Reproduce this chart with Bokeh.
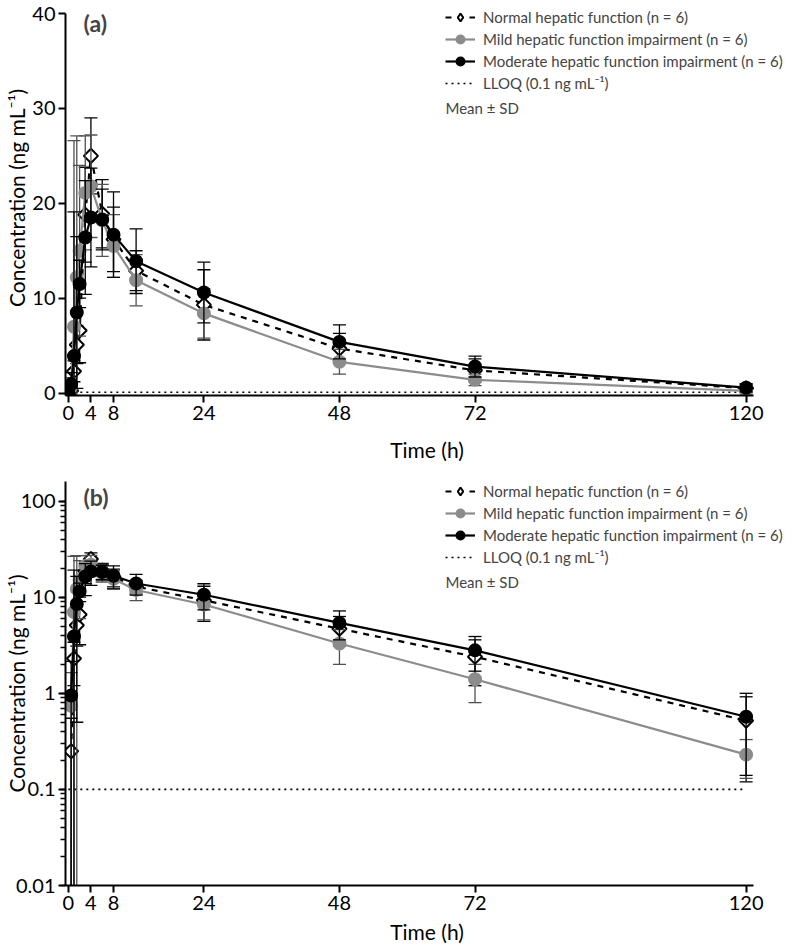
import numpy as np
from bokeh.plotting import figure
from bokeh.models import (ColumnDataSource, Legend, LegendItem, Label, FixedTicker, LogTicker,
                          Range1d, CustomJSTickFormatter)
from bokeh.layouts import column
from bokeh.embed import file_html
from bokeh.resources import INLINE

# ---------------- data ----------------
time_h = [0, 0.5, 1, 1.5, 2, 3, 4, 6, 8, 12, 24, 48, 72, 120]
normal_mean = [0, 0.25, 2.3, 5.1, 6.6, 18.8, 25.0, 18.9, 16.2, 12.9, 9.3, 4.7, 2.4, 0.52]
normal_sd = [0, 0.3, 1.1, 2.0, 3.4, 5.0, 4.0, 3.6, 3.4, 2.1, 3.7, 1.6, 1.2, 0.4]
mild_mean = [0, 0.74, 7.0, 12.2, 15.0, 21.1, 21.8, 18.2, 15.5, 11.9, 8.4, 3.3, 1.4, 0.23]
mild_sd = [0, 0.9, 19.6, 14.9, 9.0, 6.0, 5.4, 3.8, 3.3, 2.7, 2.6, 1.3, 0.6, 0.1]
moderate_mean = [0, 0.95, 3.9, 8.5, 11.5, 16.4, 18.5, 18.3, 16.7, 13.9, 10.6, 5.4, 2.8, 0.57]
moderate_sd = [0, 1.2, 15.2, 8.0, 2.5, 6.0, 5.2, 3.2, 4.5, 3.4, 3.2, 1.8, 1.1, 0.43]
lloq = 0.1

x_ticks = [0, 4, 8, 24, 48, 72, 120]
y_ticks_lin = [0, 10, 20, 30, 40]

series = [
    ("Normal hepatic function (n = 6)", normal_mean, normal_sd, "black", "dashed", "square", np.pi / 4, "white", "black", 10),
    ("Mild hepatic function impairment (n = 6)", mild_mean, mild_sd, "#8c8c8c", "solid", "circle", 0, "#8c8c8c", "#8c8c8c", 12),
    ("Moderate hepatic function impairment (n = 6)", moderate_mean, moderate_sd, "black", "solid", "circle", 0, "black", "black", 12),
]
err_colors = ["black", "#505050", "black"]

FONT = "Lato"
WIDTH = 788
LEFT = 57


def style_axes(p):
    for ax in (p.xaxis[0], p.yaxis[0]):
        ax.axis_line_width = 2
        ax.axis_line_color = "black"
        ax.major_tick_line_width = 2
        ax.major_tick_line_color = "black"
        ax.major_tick_out = 7
        ax.major_tick_in = 0
        ax.major_label_text_font = FONT
        ax.major_label_text_font_size = "20px"
        ax.major_label_text_color = "black"
        ax.major_label_standoff = 3
        ax.axis_label_text_font = FONT
        ax.axis_label_text_font_size = "21px"
        ax.axis_label_text_font_style = "normal"
        ax.axis_label_text_color = "black"
    p.xaxis[0].ticker = FixedTicker(ticks=x_ticks)
    p.xaxis[0].axis_label = "Time (h)"
    p.xaxis[0].minor_tick_line_color = None
    p.xaxis[0].bounds = (-0.5, 121.3)
    p.yaxis[0].axis_label = "Concentration (ng mL\u207b\u00b9)"
    p.grid.visible = False
    p.outline_line_color = None


def make_panel(log, height, border_top, border_bottom, tag, leg_y, mean_y, xlab_standoff):
    kw = dict(width=WIDTH, height=height, output_backend="svg", toolbar_location=None,
              min_border_left=LEFT, min_border_right=0, min_border_top=border_top,
              min_border_bottom=border_bottom, x_range=Range1d(-0.5, 127.5))
    if log:
        p = figure(y_axis_type="log", y_range=Range1d(0.01, 160.0), **kw)
    else:
        p = figure(y_range=Range1d(-0.25, 41.37), **kw)
    style_axes(p)
    p.xaxis[0].axis_label_standoff = xlab_standoff
    if log:
        p.yaxis[0].ticker = LogTicker(num_minor_ticks=10, desired_num_ticks=6)
        p.yaxis[0].formatter = CustomJSTickFormatter(code="return tick.toString();")
        p.yaxis[0].minor_tick_out = 5
        p.yaxis[0].minor_tick_in = 0
        p.yaxis[0].minor_tick_line_width = 1.6
        p.yaxis[0].minor_tick_line_color = "black"
        p.yaxis[0].axis_label_standoff = -16
    else:
        p.yaxis[0].ticker = FixedTicker(ticks=y_ticks_lin)
        p.yaxis[0].minor_tick_line_color = None
        p.yaxis[0].axis_label_standoff = 0
        p.yaxis[0].bounds = (-0.25, 40)

    t = np.array(time_h, dtype=float)
    lloq_r = p.line(x=[0, 120], y=[lloq, lloq], line_color="black", line_width=1.6,
                    line_dash="dotted")
    items = []
    for i, ((label, mean, sd, col, dash, marker, ang, fill, mline, size), ecol) in enumerate(zip(series, err_colors)):
        m = np.array(mean, dtype=float)
        s = np.array(sd, dtype=float)
        up = m + s
        lo = m - s
        if log:
            keep = m > 0
            lo_draw = np.where(lo > 0, lo, 1e-5)
        else:
            keep = np.ones_like(m, dtype=bool)
            lo_draw = lo
        has_err = (s > 0) & keep
        bar = ColumnDataSource(dict(t=t[has_err], up=up[has_err], lo=lo_draw[has_err]))
        p.segment(x0="t", y0="lo", x1="t", y1="up", source=bar, line_color=ecol, line_width=1.3)
        p.scatter(x="t", y="up", source=bar, marker="dash", size=13, line_color=ecol, line_width=1.3)
        lo_ok = has_err & (lo > 0)
        lsrc = ColumnDataSource(dict(t=t[lo_ok], lo=lo[lo_ok]))
        p.scatter(x="t", y="lo", source=lsrc, marker="dash", size=13, line_color=ecol, line_width=1.3)

        src = ColumnDataSource(dict(t=t[keep], m=m[keep]))
        lr = p.line(x="t", y="m", source=src, line_color=col, line_width=2.2, line_dash=dash)
        mr = p.scatter(x="t", y="m", source=src, marker=marker, angle=ang, size=size,
                       fill_color=fill, line_color=mline, line_width=2)
        if i == 0:
            # legend-only diamond glyph (no visible data point: NaN)
            nan_src = ColumnDataSource(dict(t=[np.nan], m=[np.nan]))
            mr = p.scatter(x="t", y="m", source=nan_src, marker="diamond", size=15,
                           fill_color=fill, line_color=mline, line_width=2)
        items.append(LegendItem(label=label, renderers=[lr, mr]))
    items.append(LegendItem(label="LLOQ (0.1 ng mL\u207b\u00b9)", renderers=[lloq_r]))

    leg = Legend(items=items, location=(380, leg_y), label_text_font=FONT,
                 label_text_font_size="15px", glyph_width=30, glyph_height=20,
                 label_height=20, spacing=2, padding=0, margin=0, label_standoff=8,
                 border_line_color=None, background_fill_alpha=0)
    p.add_layout(leg)
    p.add_layout(Label(x=18, y=leg_y + 71, x_units="screen", y_units="screen",
                       text=tag, text_font=FONT, text_font_size="23px", text_font_style="bold",
                       text_baseline="middle"))
    p.add_layout(Label(x=380, y=mean_y, x_units="screen", y_units="screen", text="Mean \u00b1 SD",
                       text_font=FONT, text_font_size="15px", text_baseline="middle"))
    return p


# top: frame page 0..395
top = make_panel(False, 471, 0, 76, "(a)", 302, 288, 14)
# bottom: canvas from 471, frame page 481..885
bot = make_panel(True, 478, 10, 64, "(b)", 318, 304, 6)

layout = column(top, bot, spacing=0)
open("out.html", "w").write(file_html(layout, INLINE))
